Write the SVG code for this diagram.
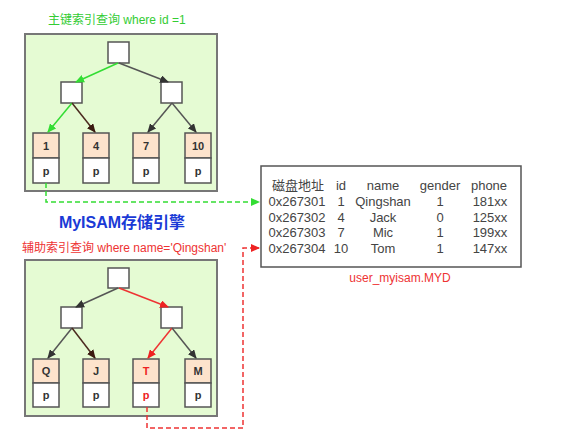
<svg xmlns="http://www.w3.org/2000/svg" width="567" height="433" viewBox="0 0 567 433">
<defs>
<style>
.panel{fill:#e5fbd3;stroke:#777;stroke-width:2}
.inner{fill:#fff;stroke:#555;stroke-width:1.5}
.key{fill:#fde3cc;stroke:#555;stroke-width:1.5}
.ptr{fill:#fff;stroke:#555;stroke-width:1.5}
.lt{font-family:"Liberation Sans",Arial,sans-serif;font-size:11px;font-weight:bold;fill:#333;text-anchor:middle}
.e{fill:none;stroke-width:1.5}
.g{stroke:#33dd33}
.d{stroke:#555}
.b{stroke:#4b2a1f}
.r{stroke:#ee3333}
.dash{fill:none;stroke-width:1.5;stroke-dasharray:5,3}
.tt{font-family:"Liberation Sans",Arial,"Noto Sans CJK SC",sans-serif;font-size:13px;fill:#444;text-anchor:middle}
.cap{font-family:"Liberation Sans",Arial,"Noto Sans CJK SC",sans-serif;font-size:12px}
</style>
<marker id="ag" markerWidth="9" markerHeight="8" refX="8" refY="4" orient="auto" markerUnits="userSpaceOnUse"><path d="M0,0 L9,4 L0,8 z" fill="#33dd33"/></marker>
<marker id="ad" markerWidth="9" markerHeight="8" refX="8" refY="4" orient="auto" markerUnits="userSpaceOnUse"><path d="M0,0 L9,4 L0,8 z" fill="#333"/></marker>
<marker id="ab" markerWidth="9" markerHeight="8" refX="8" refY="4" orient="auto" markerUnits="userSpaceOnUse"><path d="M0,0 L9,4 L0,8 z" fill="#3a1a10"/></marker>
<marker id="ar" markerWidth="9" markerHeight="8" refX="8" refY="4" orient="auto" markerUnits="userSpaceOnUse"><path d="M0,0 L9,4 L0,8 z" fill="#ee2222"/></marker>
</defs>

<text class="cap" x="48" y="24" fill="#33cc33">主键索引查询 where id =1</text>

<g id="panel-primary">
<rect class="panel" x="25" y="34" width="192" height="157"/>
</g>
<g id="p-root"><rect class="inner" x="108" y="42" width="21" height="21"/></g>
<g id="p-left"><rect class="inner" x="61" y="82" width="21" height="21"/></g>
<g id="p-right"><rect class="inner" x="161" y="82" width="21" height="21"/></g>
<g id="p-leaf1"><rect class="key" x="33" y="133" width="26" height="25"/><rect class="ptr" x="33" y="158" width="26" height="25"/><text class="lt" x="46" y="150">1</text><text class="lt" x="46" y="175">p</text></g>
<g id="p-leaf4"><rect class="key" x="83" y="133" width="26" height="25"/><rect class="ptr" x="83" y="158" width="26" height="25"/><text class="lt" x="96" y="150">4</text><text class="lt" x="96" y="175">p</text></g>
<g id="p-leaf7"><rect class="key" x="133" y="133" width="26" height="25"/><rect class="ptr" x="133" y="158" width="26" height="25"/><text class="lt" x="146" y="150">7</text><text class="lt" x="146" y="175">p</text></g>
<g id="p-leaf10"><rect class="key" x="185" y="133" width="26" height="25"/><rect class="ptr" x="185" y="158" width="26" height="25"/><text class="lt" x="198" y="150">10</text><text class="lt" x="198" y="175">p</text></g>

<text x="122" y="228" font-family="Liberation Sans,Arial,Noto Sans CJK SC,sans-serif" font-size="16" font-weight="bold" fill="#1a3ad6" text-anchor="middle">MyISAM存储引擎</text>

<text class="cap" x="22" y="252" fill="#ee3333">辅助索引查询 where name='Qingshan'</text>

<g id="panel-secondary">
<rect class="panel" x="25" y="260" width="192" height="156"/>
</g>
<g id="s-root"><rect class="inner" x="108" y="268" width="21" height="20"/></g>
<g id="s-left"><rect class="inner" x="61" y="307" width="21" height="21"/></g>
<g id="s-right"><rect class="inner" x="161" y="307" width="21" height="21"/></g>
<g id="s-leafQ"><rect class="key" x="33" y="359" width="26" height="24"/><rect class="ptr" x="33" y="383" width="26" height="24"/><text class="lt" x="46" y="375">Q</text><text class="lt" x="46" y="399">p</text></g>
<g id="s-leafJ"><rect class="key" x="83" y="359" width="26" height="24"/><rect class="ptr" x="83" y="383" width="26" height="24"/><text class="lt" x="96" y="375">J</text><text class="lt" x="96" y="399">p</text></g>
<g id="s-leafT"><rect class="key" x="133" y="359" width="26" height="24"/><rect class="ptr" x="133" y="383" width="26" height="24"/><text class="lt" x="146" y="375" style="fill:#ee2222">T</text><text class="lt" x="146" y="399" style="fill:#ee2222">p</text></g>
<g id="s-leafM"><rect class="key" x="185" y="359" width="26" height="24"/><rect class="ptr" x="185" y="383" width="26" height="24"/><text class="lt" x="198" y="375">M</text><text class="lt" x="198" y="399">p</text></g>

<g id="table">
<rect x="261" y="166" width="260" height="101" fill="#fff" stroke="#555" stroke-width="1.5"/>
<text class="tt" x="298" y="190">磁盘地址</text><text class="tt" x="341" y="190">id</text><text class="tt" x="383" y="190">name</text><text class="tt" x="440" y="190">gender</text><text class="tt" x="489" y="190">phone</text>
<text class="tt" x="297" y="206">0x267301</text><text class="tt" x="341" y="206">1</text><text class="tt" x="383" y="206">Qingshan</text><text class="tt" x="440" y="206">1</text><text class="tt" x="490" y="206">181xx</text>
<text class="tt" x="297" y="222">0x267302</text><text class="tt" x="341" y="222">4</text><text class="tt" x="383" y="222">Jack</text><text class="tt" x="440" y="222">0</text><text class="tt" x="490" y="222">125xx</text>
<text class="tt" x="297" y="237">0x267303</text><text class="tt" x="341" y="237">7</text><text class="tt" x="383" y="237">Mic</text><text class="tt" x="440" y="237">1</text><text class="tt" x="490" y="237">199xx</text>
<text class="tt" x="297" y="253">0x267304</text><text class="tt" x="341" y="253">10</text><text class="tt" x="383" y="253">Tom</text><text class="tt" x="440" y="253">1</text><text class="tt" x="490" y="253">147xx</text>
</g>
<text class="cap" x="400" y="282" fill="#ee3333" text-anchor="middle">user_myisam.MYD</text>

<g id="connectors">
<path class="e g" d="M118,63 L76,82" marker-end="url(#ag)"/>
<path class="e d" d="M119,63 L168,82" marker-end="url(#ad)"/>
<path class="e g" d="M72,103 L48,132" marker-end="url(#ag)"/>
<path class="e b" d="M72,103 L95,132" marker-end="url(#ab)"/>
<path class="e d" d="M172,103 L148,132" marker-end="url(#ad)"/>
<path class="e d" d="M172,103 L196,132" marker-end="url(#ad)"/>

<path class="e d" d="M118,288 L76,307" marker-end="url(#ad)"/>
<path class="e r" d="M119,288 L168,307" marker-end="url(#ar)"/>
<path class="e d" d="M72,328 L48,358" marker-end="url(#ad)"/>
<path class="e b" d="M72,328 L95,358" marker-end="url(#ab)"/>
<path class="e r" d="M172,328 L148,358" marker-end="url(#ar)"/>
<path class="e d" d="M172,328 L196,358" marker-end="url(#ad)"/>

<path class="dash" stroke="#33dd33" d="M46,183 V202 H259" marker-end="url(#ag)"/>
<path class="dash" stroke="#ee3333" d="M147,407 V428 H243 V248 H259" marker-end="url(#ar)"/>
</g>
</svg>
